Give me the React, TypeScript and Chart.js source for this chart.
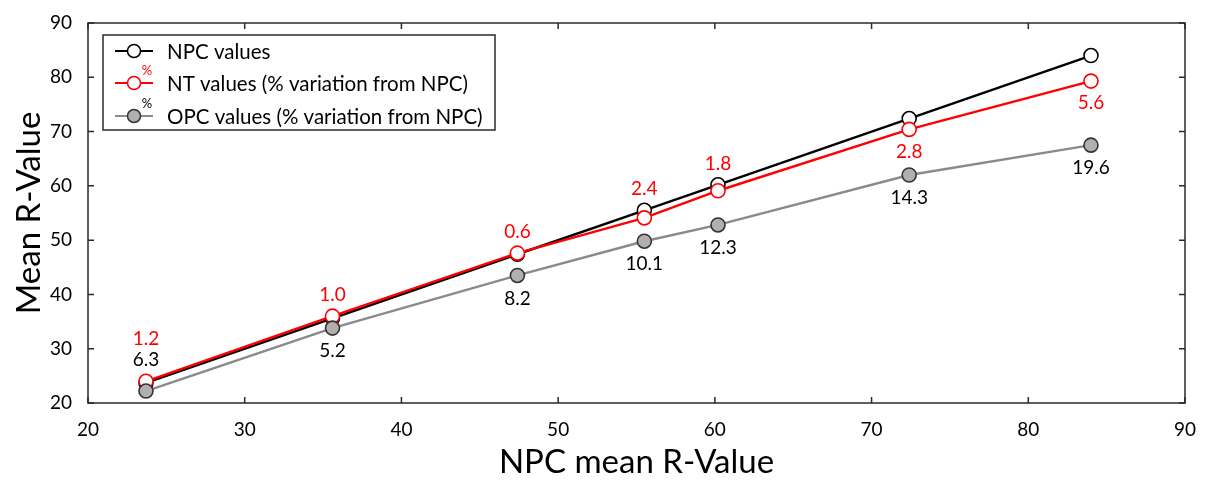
import React, { useEffect, useRef } from "react";
import { Chart, registerables } from "chart.js";

Chart.register(...registerables);

// ---- data ----
const xValues = [23.7, 35.6, 47.4, 55.5, 60.2, 72.4, 84.0];
const npcValues = [23.7, 35.6, 47.4, 55.5, 60.2, 72.4, 84.0];
const ntValues = [24.0, 36.0, 47.6, 54.1, 59.1, 70.4, 79.3];
const opcValues = [22.2, 33.8, 43.5, 49.8, 52.8, 62.0, 67.5];
const ntPctLabels = ["1.2", "1.0", "0.6", "2.4", "1.8", "2.8", "5.6"];
const opcPctLabels = ["6.3", "5.2", "8.2", "10.1", "12.3", "14.3", "19.6"];
const axisTicks = [20, 30, 40, 50, 60, 70, 80, 90];
const seriesNames = [
  "NPC values",
  "NT values (% variation from NPC)",
  "OPC values (% variation from NPC)",
];
const xTitle = "NPC mean R-Value";
const yTitle = "Mean R-Value";

const FONT = "Lato, 'Open Sans', sans-serif";

// label placement (style, not data)
const ntPlacement = ["above", "above", "above", "above", "above", "below", "below"];
const opcPlacement = ["above", "below", "below", "below", "below", "below", "below"];

const COLORS = {
  npc: "#000000",
  nt: "#ff0000",
  opcLine: "#8a8a8a",
  opcFill: "#b3afaf",
  opcBorder: "#333333",
  frame: "#2a2a2a",
};

const customPlugin = {
  id: "customDecor",
  beforeDatasetsDraw(chart: any) {
    const { ctx, chartArea } = chart;
    const { left, right, top, bottom } = chartArea;
    const xs = chart.scales.x;
    const ys = chart.scales.y;
    ctx.save();
    ctx.strokeStyle = COLORS.frame;
    ctx.lineWidth = 1.5;
    ctx.strokeRect(left, top, right - left, bottom - top);
    const tl = 6;
    ctx.beginPath();
    axisTicks.forEach((v) => {
      const px = xs.getPixelForValue(v);
      ctx.moveTo(px, bottom);
      ctx.lineTo(px, bottom - tl);
      ctx.moveTo(px, top);
      ctx.lineTo(px, top + tl);
      const py = ys.getPixelForValue(v);
      ctx.moveTo(left, py);
      ctx.lineTo(left + tl, py);
      ctx.moveTo(right, py);
      ctx.lineTo(right - tl, py);
    });
    ctx.stroke();
    ctx.restore();
  },
  afterDatasetsDraw(chart: any) {
    const { ctx } = chart;
    const xs = chart.scales.x;
    const ys = chart.scales.y;
    ctx.save();
    ctx.font = `19px ${FONT}`;
    ctx.textAlign = "center";
    ctx.textBaseline = "middle";
    xValues.forEach((xv, i) => {
      const px = xs.getPixelForValue(xv);
      const pNpc = ys.getPixelForValue(npcValues[i]);
      const pNt = ys.getPixelForValue(ntValues[i]);
      const pOpc = ys.getPixelForValue(opcValues[i]);
      const topMost = Math.min(pNpc, pNt);
      let aboveY = topMost - 21;
      if (opcPlacement[i] === "above") {
        ctx.fillStyle = "#000";
        ctx.fillText(opcPctLabels[i], px, aboveY);
        aboveY -= 21;
      } else {
        ctx.fillStyle = "#000";
        ctx.fillText(opcPctLabels[i], px, pOpc + 23);
      }
      ctx.fillStyle = COLORS.nt;
      if (ntPlacement[i] === "above") {
        ctx.fillText(ntPctLabels[i], px, aboveY);
      } else {
        ctx.fillText(ntPctLabels[i], px, pNt + 22);
      }
    });
    ctx.restore();
  },
  afterDraw(chart: any) {
    const { ctx } = chart;
    ctx.save();
    const lx = 103, ly = 35, lw = 392, lh = 95;
    ctx.fillStyle = "#fff";
    ctx.fillRect(lx, ly, lw, lh);
    ctx.strokeStyle = COLORS.frame;
    ctx.lineWidth = 1.5;
    ctx.strokeRect(lx, ly, lw, lh);
    const rows = [51, 83, 116];
    chart.data.datasets.forEach((ds: any, i: number) => {
      const y = rows[i];
      ctx.strokeStyle = ds.borderColor;
      ctx.lineWidth = 2;
      ctx.beginPath();
      ctx.moveTo(115, y);
      ctx.lineTo(153, y);
      ctx.stroke();
      ctx.beginPath();
      ctx.arc(134, y, 6.5, 0, Math.PI * 2);
      ctx.fillStyle = ds.pointBackgroundColor;
      ctx.fill();
      ctx.strokeStyle = ds.pointBorderColor;
      ctx.lineWidth = 1.5;
      ctx.stroke();
      ctx.fillStyle = "#000";
      ctx.font = `20.5px ${FONT}`;
      ctx.textAlign = "left";
      ctx.textBaseline = "middle";
      ctx.fillText(ds.label, 167, y + 1);
      if (i > 0) {
        ctx.font = `13px ${FONT}`;
        ctx.textAlign = "center";
        ctx.fillStyle = i === 1 ? COLORS.nt : "#000";
        ctx.fillText("%", 147, y - 12);
      }
    });
    ctx.restore();
  },
};

export default function App() {
  const ref = useRef<HTMLCanvasElement>(null);
  useEffect(() => {
    document.body.style.margin = "0";
    const canvas = ref.current;
    if (!canvas) return;
    const mk = (vals: number[]) => xValues.map((x, i) => ({ x, y: vals[i] }));
    const chart = new Chart(canvas, {
      type: "line",
      data: {
        datasets: [
          {
            label: seriesNames[0],
            data: mk(npcValues),
            borderColor: COLORS.npc,
            borderWidth: 2.4,
            pointRadius: 7,
            pointBorderWidth: 1.6,
            pointBackgroundColor: "#ffffff",
            pointBorderColor: COLORS.npc,
            order: 3,
          },
          {
            label: seriesNames[1],
            data: mk(ntValues),
            borderColor: COLORS.nt,
            borderWidth: 2.4,
            pointRadius: 7,
            pointBorderWidth: 1.6,
            pointBackgroundColor: "#ffffff",
            pointBorderColor: COLORS.nt,
            order: 2,
          },
          {
            label: seriesNames[2],
            data: mk(opcValues),
            borderColor: COLORS.opcLine,
            borderWidth: 2.4,
            pointRadius: 7,
            pointBorderWidth: 1.6,
            pointBackgroundColor: COLORS.opcFill,
            pointBorderColor: COLORS.opcBorder,
            order: 1,
          },
        ],
      },
      options: {
        responsive: false,
        animation: false,
        layout: { padding: { top: 23, right: 24, left: 0, bottom: 0 } },
        plugins: {
          legend: { display: false },
          tooltip: { enabled: false },
        },
        scales: {
          x: {
            type: "linear",
            min: 20,
            max: 90,
            afterBuildTicks: (s: any) => {
              s.ticks = axisTicks.map((v) => ({ value: v }));
            },
            ticks: {
              font: { family: FONT, size: 19 },
              color: "#000",
              padding: 7,
              maxRotation: 0,
            },
            grid: { display: false },
            border: { display: false },
            title: {
              display: true,
              text: xTitle,
              font: { family: FONT, size: 33 },
              color: "#000",
              padding: { top: 0, bottom: 0 },
            },
            afterFit: (s: any) => {
              s.height = 79;
            },
          },
          y: {
            type: "linear",
            min: 20,
            max: 90,
            afterBuildTicks: (s: any) => {
              s.ticks = axisTicks.map((v) => ({ value: v }));
            },
            ticks: {
              font: { family: FONT, size: 19 },
              color: "#000",
              padding: 8,
            },
            grid: { display: false },
            border: { display: false },
            title: {
              display: true,
              text: yTitle,
              font: { family: FONT, size: 33 },
              color: "#000",
              padding: { top: 10, bottom: 0 },
            },
            afterFit: (s: any) => {
              s.width = 88;
            },
          },
        },
      },
      plugins: [customPlugin],
    } as any);
    return () => chart.destroy();
  }, []);
  return (
    <div style={{ width: 1209, height: 482 }}>
      <canvas ref={ref} width={1209} height={482} />
    </div>
  );
}
